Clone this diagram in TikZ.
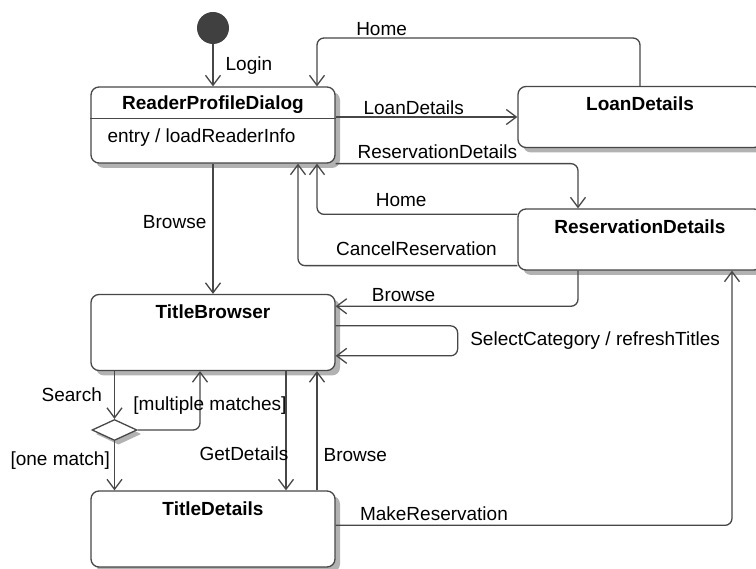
\documentclass[tikz,border=0pt]{standalone}
\usepackage{fontspec}
\setmainfont{Liberation Sans}
\usetikzlibrary{arrows.meta,shapes.geometric}

\definecolor{linegray}{HTML}{474747}
\colorlet{boxshade}{black!30}
\definecolor{initgray}{HTML}{404040}

\tikzset{
  state/.style={draw=linegray, line width=1.3pt, rounded corners=8pt, fill=white,
    inner sep=0pt, minimum width=244pt},
  statename/.style={font=\fontsize{19}{22}\selectfont\bfseries, inner sep=0pt},
  initial/.style={circle, fill=initgray, inner sep=0pt, minimum size=32pt},
  choice/.style={diamond, draw=linegray, line width=1.3pt, fill=white, inner sep=0pt,
    minimum width=45pt, minimum height=21pt},
  trans/.style={draw=linegray, line width=1.3pt, rounded corners=7pt,
    -{Straight Barb[length=10pt,width=15pt]}},
  evt/.style={font=\fontsize{19}{22}\selectfont, inner sep=2pt},
}

\begin{document}
\begin{tikzpicture}[x=1pt, y=-1pt]
  \useasboundingbox (0,0) rectangle (756,569);

  % states, each on its shadow
  \foreach \s/\cx/\cy/\h in {rpd/213/125/76, loan/640/117/61, res/640/239.5/61, tb/213/332.5/76, td/213/529/76}
  {
    \fill[boxshade, rounded corners=8pt] (\cx-117,\cy-\h/2+5) rectangle (\cx+127,\cy+\h/2+5);
    \node[state, minimum height=\h pt] (\s) at (\cx,\cy) {};
  }
  \node[initial] (init) at (213,28) {};
  \fill[boxshade] (118.5,423.5) -- (141,434) -- (118.5,444.5) -- (96,434) -- cycle;
  \node[choice] (dec) at (114.5,430) {};

  \node[statename] (rpd-name) at ([yshift=-18pt]rpd.north) {ReaderProfileDialog};
  \node[statename] (loan-name) at ([yshift=-18pt]loan.north) {LoanDetails};
  \node[statename] (res-name) at ([yshift=-18pt]res.north) {ReservationDetails};
  \node[statename] (tb-name) at ([yshift=-18pt]tb.north) {TitleBrowser};
  \node[statename] (td-name) at ([yshift=-18pt]td.north) {TitleDetails};

  % entry compartment
  \draw[linegray, line width=1.3pt] ([yshift=-32pt]rpd.north west) -- ([yshift=-32pt]rpd.north east);
  \node[evt, anchor=west] (rpd-entry) at ([xshift=15pt, yshift=-51pt]rpd.north west) {entry / loadReaderInfo};

  % bend points
  \coordinate (homex) at (317,38);
  \coordinate (cancelx) at (298,0);
  \coordinate (getx) at (286,0);
  \coordinate (multx) at (200,0);
  \coordinate (resx) at (578,0);
  \coordinate (makex) at (732,0);

  % transitions
  \draw[trans] (init) -- (rpd) node[evt, midway, right=10pt] {Login};
  \draw[trans] (loan.north) |- (homex) node[evt, above, pos=0.9] {Home}
    -- (homex |- rpd.north);
  \draw[trans] (rpd.east |- loan.west) -- (loan.west) node[evt, above, pos=0.43] {LoanDetails};
  \draw[trans] (rpd.south east) -| (resx |- res.north) node[evt, above, pos=0.21, yshift=2pt] {ReservationDetails};
  \draw[trans] ([yshift=-6pt]res.north west) -| (homex |- rpd.south) node[evt, above, pos=0.29, yshift=5pt] {Home};
  \draw[trans] ([yshift=5pt]res.south west) -| (cancelx |- rpd.south) node[evt, above, pos=0.23, yshift=7pt] {CancelReservation};
  \draw[trans] (rpd) -- (tb) node[evt, left=4pt, pos=0.45] {Browse};
  \draw[trans] (resx |- res.south) |- ([yshift=-12.4pt]tb.north east) node[evt, above, pos=0.86, yshift=2pt] {Browse};
  \draw[trans] ([yshift=-32pt]tb.north east) -- ++(122,0) |- ([yshift=-62pt]tb.north east)
    node[evt, right=10pt, pos=0.25] {SelectCategory / refreshTitles};
  \draw[trans] (dec.north |- tb.south) -- (dec) node[evt, left=10pt, midway] {Search};
  \draw[trans] (dec.east) -| (multx |- tb.south) node[evt, pos=0.71, xshift=10pt] {[multiple matches]};
  \draw[trans] (dec.south) -- (dec.south |- td.north) node[evt, left=2pt, pos=0.4] {[one match]};
  \draw[trans] (getx |- tb.south) -- (getx |- td.north) node[evt, anchor=east, xshift=5pt, pos=0.69] {GetDetails};
  \draw[trans] (homex |- td.north) -- (homex |- tb.south) node[evt, right=4pt, pos=0.3] {Browse};
  \draw[trans] ([yshift=-35pt]td.north east) -| (makex |- res.south) node[evt, above, pos=0.124, yshift=2pt] {MakeReservation};

\end{tikzpicture}
\end{document}
